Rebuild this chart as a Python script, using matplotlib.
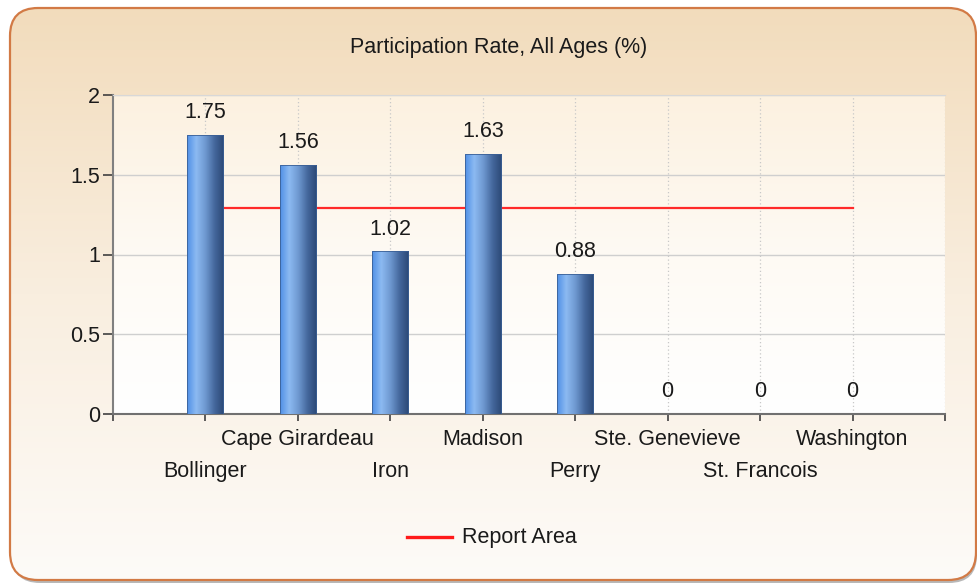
import matplotlib
matplotlib.use("Agg")
import matplotlib.pyplot as plt
import numpy as np
from matplotlib.patches import FancyBboxPatch
from matplotlib.colors import LinearSegmentedColormap

# data
counties = ["Bollinger", "Cape Girardeau", "Iron", "Madison", "Perry",
            "Ste. Genevieve", "St. Francois", "Washington"]
rates = [1.75, 1.56, 1.02, 1.63, 0.88, 0, 0, 0]
report_area = 1.29
value_labels = ["1.75", "1.56", "1.02", "1.63", "0.88", "0", "0", "0"]

plt.rcParams['font.family'] = ['Liberation Sans', 'DejaVu Sans']
fs = 15.5

fig = plt.figure(figsize=(9.77, 5.86), dpi=100)
fig.patch.set_facecolor("white")

# rounded panel with a beige to white gradient
bg = fig.add_axes([0, 0, 1, 1])
bg.set_xlim(0, 977)
bg.set_ylim(586, 0)
bg.axis("off")
panel_cmap = LinearSegmentedColormap.from_list("panel", ["#f2dcbc", "#f9eedf", "#fdfbf8"])
grad = np.linspace(0, 1, 256).reshape(-1, 1)
shadow = FancyBboxPatch((12, 11), 965, 572, boxstyle="round,pad=0,rounding_size=28",
                        facecolor="#b8b8b8", edgecolor="none", zorder=0)
bg.add_patch(shadow)
img = bg.imshow(grad, cmap=panel_cmap, extent=[10, 976, 580, 8], aspect="auto", zorder=1)
panel = FancyBboxPatch((10, 8), 966, 572, boxstyle="round,pad=0,rounding_size=28",
                       facecolor="none", edgecolor="#d27a45", linewidth=1.6, zorder=2)
bg.add_patch(panel)
img.set_clip_path(panel)

bg.text(499, 48, "Participation Rate, All Ages (%)", ha="center", va="center",
        fontsize=fs, color="#1a1a1a")

# legend
bg.plot([407, 452], [537, 537], color="#ff1a1a", linewidth=2.4)
bg.text(462, 538, "Report Area", ha="left", va="center", fontsize=fs, color="#1a1a1a")

# main plot area
ax = fig.add_axes([113 / 977, 1 - 414 / 586, (945 - 113) / 977, (414 - 95) / 586])
ax.set_xlim(0, 9)
ax.set_ylim(0, 2)
area_cmap = LinearSegmentedColormap.from_list("area", ["#fcf1e0", "#fefaf4", "#ffffff"])
ax.imshow(grad, cmap=area_cmap, extent=[0, 9, 0, 2], aspect="auto", zorder=0)
ax.set_facecolor("none")

x = np.arange(1, len(counties) + 1)

# grid
for yv in [0.5, 1, 1.5, 2]:
    ax.axhline(yv, color="#cfcfcf", linewidth=1, zorder=1)
for xv in list(x) + [9]:
    ax.axvline(xv, color="#c8c8c8", linewidth=0.9, linestyle=(0, (1, 2)), zorder=1)

# report area line
ax.plot([x[0], x[-1]], [report_area, report_area], color="#ff2a2a", linewidth=1.6, zorder=2)

# cylinder-shaded bars
bar_cmap = LinearSegmentedColormap.from_list(
    "bar", ["#4f8fe6", "#8cbaf2", "#6e98d0", "#44679c", "#2b4875"])
hgrad = np.linspace(0, 1, 256).reshape(1, -1)
bw = 0.39
bars = ax.bar(x, rates, width=bw, color="none", edgecolor="#3a5f95", linewidth=0.6, zorder=4)
for b, r in zip(bars, rates):
    if r > 0:
        im = ax.imshow(hgrad, cmap=bar_cmap, aspect="auto", zorder=3,
                       extent=[b.get_x(), b.get_x() + bw, 0, r])
        im.set_clip_path(b)

for xi, r, lab in zip(x, rates, value_labels):
    ax.annotate(lab, (xi, r), xytext=(0, 16), textcoords="offset points",
                ha="center", va="center", fontsize=fs, color="#1a1a1a", zorder=5)

ax.set_xlim(0, 9)
ax.set_ylim(0, 2)

# ticks and staggered labels
ax.set_xticks(np.arange(0, 10))
ax.set_xticklabels([])
ax.set_yticks([0, 0.5, 1, 1.5, 2])
ax.set_yticklabels(["0", "0.5", "1", "1.5", "2"])
ax.tick_params(axis="y", direction="out", length=7, width=1.2, color="#404040",
               labelsize=fs, labelcolor="#1a1a1a", pad=2.5)
ax.tick_params(axis="x", direction="out", length=5, width=1.2, color="#404040")
for i, (xi, name) in enumerate(zip(x, counties)):
    dy = -41.5 if i % 2 == 0 else -18.5
    ax.annotate(name, (xi, 0), xycoords="data", xytext=(0, dy),
                textcoords="offset points", ha="center", va="center",
                fontsize=fs, color="#1a1a1a", annotation_clip=False)

ax.spines["right"].set_visible(False)
ax.spines["top"].set_color("#d8d8d8")
ax.spines["left"].set_color("#808080")
ax.spines["left"].set_linewidth(1.5)
ax.spines["bottom"].set_color("#707070")
ax.spines["bottom"].set_linewidth(1.5)

fig.savefig("out.png", dpi=100)
